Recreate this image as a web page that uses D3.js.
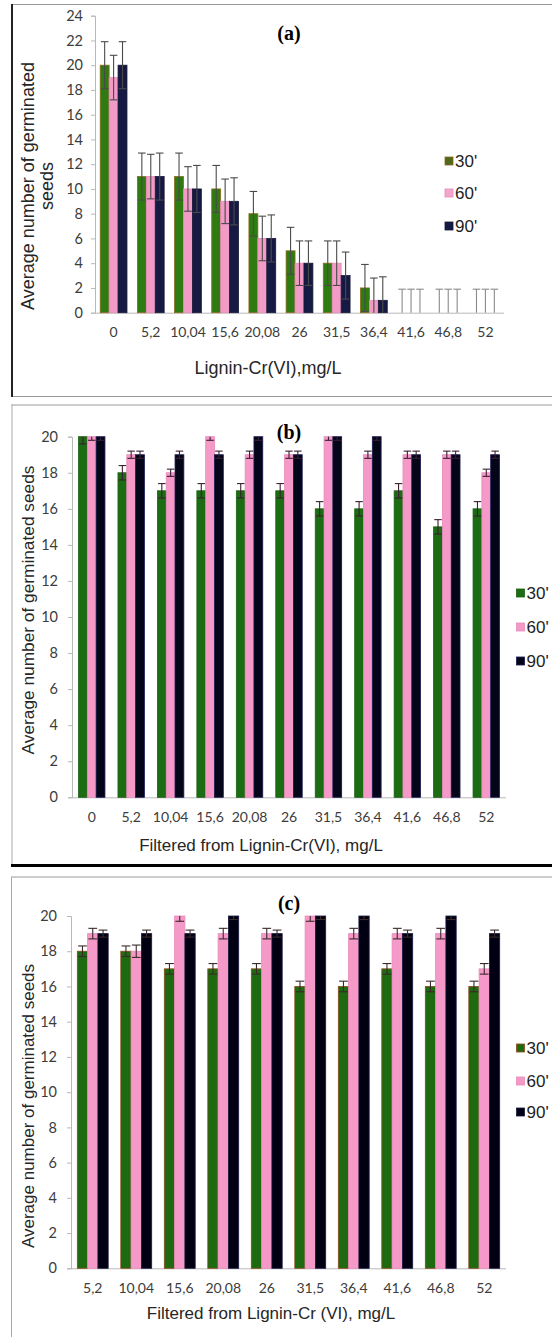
<!DOCTYPE html>
<html>
<head>
<meta charset="utf-8">
<title>Average number of germinated seeds</title>
<script src="https://cdnjs.cloudflare.com/ajax/libs/d3/7.8.5/d3.min.js"></script>
<style>
  body { margin: 0; background: #fff; }
  svg { display: block; }
</style>
</head>
<body>
<svg width="552" height="1337"></svg>
<script>
// ---- data ----
var catsAB = ["0", "5,2", "10,04", "15,6", "20,08", "26", "31,5", "36,4", "41,6", "46,8", "52"];
var catsC = ["5,2", "10,04", "15,6", "20,08", "26", "31,5", "36,4", "41,6", "46,8", "52"];
var seriesNames = ["30'", "60'", "90'"];
var yTicksA = [0, 2, 4, 6, 8, 10, 12, 14, 16, 18, 20, 22, 24];
var yTicksBC = [0, 2, 4, 6, 8, 10, 12, 14, 16, 18, 20];

// (a) Lignin-Cr(VI)
var a30 = [20, 11, 11, 10, 8, 5, 4, 2, 0, 0, 0];
var a60 = [19, 11, 10, 9, 6, 4, 4, 1, 0, 0, 0];
var a90 = [20, 11, 10, 9, 6, 4, 3, 1, 0, 0, 0];
var a30Err = [1.9, 1.9, 1.9, 1.9, 1.8, 1.9, 1.8, 1.9, 1.9, 1.9, 1.9];
var a60Err = [1.8, 1.8, 1.8, 1.8, 1.8, 1.8, 1.8, 1.8, 1.9, 1.9, 1.9];
var a90Err = [1.9, 1.9, 1.9, 1.9, 1.9, 1.8, 1.9, 1.9, 1.9, 1.9, 1.9];

// (b) filtered from Lignin-Cr(VI)
var b30 = [20, 18, 17, 17, 17, 17, 16, 16, 17, 15, 16];
var b60 = [20, 19, 18, 20, 19, 19, 20, 19, 19, 19, 18];
var b90 = [20, 19, 19, 19, 20, 19, 20, 20, 19, 19, 19];
var b30Err = [0.4, 0.4, 0.4, 0.4, 0.4, 0.4, 0.4, 0.4, 0.4, 0.4, 0.4];
var b60Err = [0.2, 0.2, 0.2, 0.2, 0.2, 0.2, 0.2, 0.2, 0.2, 0.2, 0.2];
var b90Err = [0.2, 0.2, 0.2, 0.2, 0.2, 0.2, 0.2, 0.2, 0.2, 0.2, 0.2];

// (c) filtered from Lignin-Cr (VI)
var c30 = [18, 18, 17, 17, 17, 16, 16, 17, 16, 16];
var c60 = [19, 18, 20, 19, 19, 20, 19, 19, 19, 17];
var c90 = [19, 19, 19, 20, 19, 20, 20, 19, 20, 19];
var c30Err = [0.3, 0.3, 0.3, 0.3, 0.3, 0.3, 0.3, 0.3, 0.3, 0.3];
var c60Err = [0.3, 0.35, 0.3, 0.3, 0.3, 0.3, 0.3, 0.3, 0.3, 0.3];
var c90Err = [0.2, 0.2, 0.2, 0.2, 0.2, 0.2, 0.2, 0.2, 0.2, 0.2];

var svg = d3.select("svg");
var tickFont = "Lato, 'Open Sans', sans-serif";
var labelFont = "'Liberation Sans', Arial, sans-serif";

function drawPanel(p) {
    var g = svg.append("g");

    var x = d3.scaleBand()
        .domain(p.cats)
        .range([p.left, p.right])
        .paddingInner(p.pad)
        .paddingOuter(p.pad / 2);

    var xs = d3.scaleBand()
        .domain(seriesNames)
        .range([0, x.bandwidth()]);

    var y = d3.scaleLinear()
        .domain([0, p.max])
        .range([p.bottom, p.top]);

    // axes
    var yAxis = d3.axisLeft(y).tickValues(p.yTicks).tickSize(4).tickPadding(p.tickPad);
    var ya = g.append("g")
        .attr("transform", "translate(" + p.left + ",0)")
        .call(yAxis);
    ya.select(".domain").attr("stroke", "#b8b8b8");
    ya.selectAll(".tick line").attr("stroke", "#b8b8b8");
    ya.selectAll(".tick text")
        .attr("font-family", tickFont).attr("font-size", 14.5).attr("fill", "#3c3c3c");

    var xAxis = d3.axisBottom(x).tickSize(0).tickPadding(p.xTickPad);
    var xa = g.append("g")
        .attr("transform", "translate(0," + p.bottom + ")")
        .call(xAxis);
    xa.select(".domain").attr("stroke", "#b8b8b8").attr("d", "M" + p.left + ",0.5H" + p.right);
    xa.selectAll(".tick text")
        .attr("font-family", tickFont).attr("font-size", 14).attr("fill", "#3c3c3c");

    var rows = [];
    p.values.forEach(function(vals, si) {
        vals.forEach(function(v, ci) {
            rows.push({cat: p.cats[ci], s: seriesNames[si], si: si, v: v, e: p.errs[si][ci]});
        });
    });

    g.selectAll("rect.bar")
        .data(rows.filter(function(d) { return d.v > 0; }))
        .enter().append("rect")
        .attr("class", "bar")
        .attr("x", function(d) { return x(d.cat) + xs(d.s); })
        .attr("y", function(d) { return y(d.v); })
        .attr("width", xs.bandwidth())
        .attr("height", function(d) { return y(0) - y(d.v); })
        .attr("fill", function(d) { return p.colors[d.si]; })
        .attr("stroke", function(d) { return p.strokes[d.si]; })
        .attr("stroke-width", 0.8);

    // error bars
    var capW = xs.bandwidth() * 0.85;
    var eb = g.selectAll("g.err")
        .data(rows)
        .enter().append("g")
        .attr("class", "err")
        .attr("stroke", function(d) { return d.v > 0 ? p.errColor : p.errZero; })
        .attr("stroke-width", 1.1);
    eb.each(function(d) {
        var cx = x(d.cat) + xs(d.s) + xs.bandwidth() / 2;
        var hi = d.v + d.e, lo = Math.max(0, d.v - d.e);
        var sel = d3.select(this);
        sel.append("line")
            .attr("x1", cx).attr("x2", cx)
            .attr("y1", y(Math.min(hi, p.max))).attr("y2", y(lo));
        if (hi <= p.max) {
            sel.append("line")
                .attr("x1", cx - capW / 2).attr("x2", cx + capW / 2)
                .attr("y1", y(hi)).attr("y2", y(hi));
        }
        if (d.v - d.e > 0) {
            sel.append("line")
                .attr("x1", cx - capW / 2).attr("x2", cx + capW / 2)
                .attr("y1", y(lo)).attr("y2", y(lo));
        }
    });

    // title
    g.append("text")
        .attr("x", p.titleX).attr("y", p.titleY)
        .attr("text-anchor", "middle").attr("dominant-baseline", "central")
        .attr("font-family", "'Liberation Serif', 'Times New Roman', serif")
        .attr("font-weight", "bold").attr("font-size", 20)
        .text(p.title);

    // y title
    p.yTitle.forEach(function(line, i) {
        g.append("text")
            .attr("transform", "translate(" + (p.yTitleX + i * 19) + "," + p.yTitleY + ") rotate(-90)")
            .attr("text-anchor", "middle").attr("dominant-baseline", "central")
            .attr("font-family", labelFont).attr("font-size", p.yTitleSize).attr("fill", "#262626")
            .text(line);
    });

    // x title
    g.append("text")
        .attr("x", p.xTitleX).attr("y", p.xTitleY)
        .attr("text-anchor", "middle").attr("dominant-baseline", "central")
        .attr("font-family", labelFont).attr("font-size", p.xTitleSize).attr("fill", "#262626")
        .text(p.xTitle);

    // legend
    var lg = g.selectAll("g.leg")
        .data(seriesNames)
        .enter().append("g")
        .attr("class", "leg")
        .attr("transform", function(d, i) { return "translate(" + p.legX + "," + p.legY[i] + ")"; });
    lg.append("rect")
        .attr("x", 0).attr("y", -4).attr("width", 8).attr("height", 8)
        .attr("fill", function(d, i) { return p.legColors[i]; })
        .attr("stroke", function(d, i) { return p.strokes[i]; })
        .attr("stroke-width", 0.8);
    lg.append("text")
        .attr("x", 10).attr("y", 0)
        .attr("dominant-baseline", "central")
        .attr("font-family", labelFont).attr("font-size", 17).attr("fill", "#1e1e1e")
        .text(function(d) { return d; });
}

// panel frames
function hline(x1, x2, yy, color, w) {
    svg.append("line").attr("x1", x1).attr("x2", x2).attr("y1", yy).attr("y2", yy)
        .attr("stroke", color).attr("stroke-width", w);
}
function vline(xx, y1, y2, color, w) {
    svg.append("line").attr("x1", xx).attr("x2", xx).attr("y1", y1).attr("y2", y2)
        .attr("stroke", color).attr("stroke-width", w);
}
hline(11, 552, 4.5, "#9a9a9a", 1);
hline(11, 552, 396.5, "#9a9a9a", 1);
vline(12, 4, 397, "#222", 2);
hline(11, 552, 405, "#9a9a9a", 1);
vline(12, 405, 866, "#aaa", 1);
hline(11, 552, 865.5, "#000", 3);
hline(11, 552, 877, "#9a9a9a", 1);
vline(11.5, 877, 1337, "#aaa", 1);

drawPanel({
    cats: catsAB, values: [a30, a60, a90], errs: [a30Err, a60Err, a90Err],
    left: 95, right: 504, top: 15.7, bottom: 312.7, max: 24, yTicks: yTicksA,
    pad: 0.28, tickPad: 8, xTickPad: 14,
    colors: ["#2e7b12", "#f29bc7", "#161a42"],
    strokes: ["#8a6a1c", "#e58ab8", "#141838"],
    legColors: ["#50681a", "#f4a6cc", "#161a42"],
    errColor: "#4a4a4a", errZero: "#8a8a8a",
    title: "(a)", titleX: 289, titleY: 33,
    yTitle: ["Average number of germinated", "seeds"], yTitleX: 28, yTitleY: 186, yTitleSize: 18,
    xTitle: "Lignin-Cr(VI),mg/L", xTitleX: 268, xTitleY: 368, xTitleSize: 18,
    legX: 445, legY: [161, 193, 226]
});

drawPanel({
    cats: catsAB, values: [b30, b60, b90], errs: [b30Err, b60Err, b90Err],
    left: 72, right: 506, top: 436.7, bottom: 797.3, max: 20, yTicks: yTicksBC,
    pad: 0.33, tickPad: 10, xTickPad: 15,
    colors: ["#1b6c12", "#f59ac8", "#05051a"],
    strokes: ["#1b6012", "#e88bbb", "#1a1a50"],
    legColors: ["#1b6c12", "#f59ac8", "#05051a"],
    errColor: "#3a2030", errZero: "#555",
    title: "(b)", titleX: 289, titleY: 432,
    yTitle: ["Average number of germinated seeds"], yTitleX: 28, yTitleY: 610, yTitleSize: 17.3,
    xTitle: "Filtered from Lignin-Cr(VI), mg/L", xTitleX: 261, xTitleY: 845, xTitleSize: 17,
    legX: 516.5, legY: [593, 627, 661]
});

drawPanel({
    cats: catsC, values: [c30, c60, c90], errs: [c30Err, c60Err, c90Err],
    left: 71, right: 506, top: 916, bottom: 1268.3, max: 20, yTicks: yTicksBC,
    pad: 0.29, tickPad: 10, xTickPad: 15,
    colors: ["#1d6a10", "#f59ac8", "#000012"],
    strokes: ["#8c4a1a", "#e88bbb", "#1a1a40"],
    legColors: ["#1d6a10", "#f59ac8", "#000012"],
    errColor: "#3a2a2a", errZero: "#555",
    title: "(c)", titleX: 289, titleY: 903,
    yTitle: ["Average number of germinated seeds"], yTitleX: 28, yTitleY: 1106, yTitleSize: 17,
    xTitle: "Filtered from Lignin-Cr (VI), mg/L", xTitleX: 271, xTitleY: 1313, xTitleSize: 17,
    legX: 516.5, legY: [1048, 1081, 1112]
});
</script>
</body>
</html>
